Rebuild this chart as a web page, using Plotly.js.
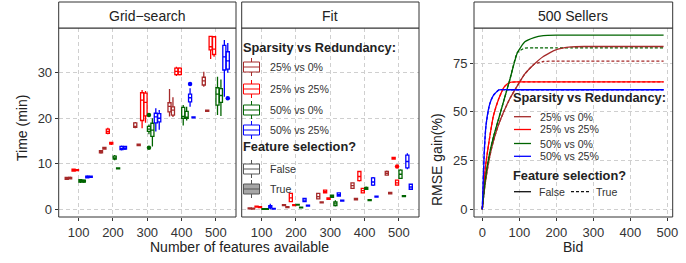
<!DOCTYPE html>
<html><head><meta charset="utf-8">
<script src="https://cdn.plot.ly/plotly-3.0.1.min.js"></script>
<style>html,body{margin:0;padding:0;background:#fff}#chart{width:686px;height:263px}</style>
</head><body><div id="chart"></div>
<script>
// ---------------- DATA ----------------
const featureCounts = [100, 200, 300, 400, 500];
const seriesNames = ['25% vs 0%', '25% vs 25%', '50% vs 0%', '50% vs 25%'];
const fsNames = ['False', 'True'];
// box stats per feature count: [lower whisker, q1, median, q3, upper whisker]
const grid_25v0_F  = [[6.5,6.6,6.8,7.0,7.1],[12.2,12.4,12.6,12.9,13.0],[17.8,18.0,18.2,19.0,19.2],[20.4,21.4,22.6,23.4,26.4],[26.9,27.3,28.2,29.0,30.2]];
const grid_25v0_T  = [[6.6,6.7,6.9,7.0,7.2],[13.1,13.2,13.4,13.6,13.7],[13.9,14.0,14.1,14.3,14.4],[20.3,20.7,21.8,22.5,24.6],[21.4,21.5,21.6,21.8,21.9]];
const grid_25v25_F = [[8.3,8.4,8.6,8.8,8.9],[16.5,16.7,17.1,17.6,17.9],[17.8,19.5,24.0,25.6,26.2],[29.3,29.6,30.3,31.0,31.3],[33.0,35.0,35.7,38.0,38.1]];
const grid_25v25_T = [[8.4,8.5,8.6,8.7,8.8],[14.1,14.3,14.5,14.7,14.8],[19.0,20.5,23.5,25.5,26.0],[29.4,29.6,30.2,31.0,31.2],[33.5,34.0,35.2,37.9,38.0]];
const grid_50v0_F  = [[5.8,6.0,6.2,6.5,6.6],[10.8,11.0,11.3,11.7,11.9],[16.5,17.1,17.6,18.2,18.6],[18.4,20.0,20.4,22.4,22.9],[20.7,22.9,25.3,26.7,29.1]];
const grid_50v0_T  = [[5.8,6.0,6.2,6.4,6.6],[8.8,8.9,9.0,9.1,9.2],[13.8,16.0,17.4,18.9,20.0],[19.5,20.0,20.2,21.5,22.5],[20.5,23.5,25.0,26.5,28.5]];
const grid_50v25_F = [[6.8,6.9,7.1,7.3,7.5],[12.9,13.1,13.4,13.8,14.0],[17.1,19.0,20.3,21.1,22.2],[22.5,23.6,24.5,25.3,26.6],[24.7,30.6,33.5,36.0,37.2]];
const grid_50v25_T = [[6.9,7.0,7.2,7.3,7.4],[13.0,13.2,13.5,13.8,13.9],[17.5,19.2,20.0,21.0,21.8],[20.0,20.1,20.2,20.3,20.4],[30.0,30.8,32.6,34.6,36.5]];
// outliers: group index (series*2 + fs), feature count, value
const gridOutGroup = [4, 4, 6, 7];
const gridOutX     = [300, 300, 400, 500];
const gridOutY     = [20.7, 13.5, 27.5, 24.4];

const fit_25v0_F  = [[0.0,0.1,0.2,0.3,0.4],[0.7,0.8,0.9,1.0,1.1],[2.2,2.3,2.8,3.5,3.6],[4.5,4.6,5.2,5.8,5.9],[7.4,7.5,7.9,8.3,8.5]];
const fit_25v0_T  = [[0.0,0.05,0.15,0.25,0.3],[0.3,0.4,0.5,0.6,0.7],[1.3,1.4,1.5,1.6,1.7],[2.0,2.1,2.2,2.4,2.5],[3.3,3.4,3.6,3.7,3.8]];
const fit_25v25_F = [[0.4,0.5,0.6,0.7,0.8],[1.6,1.7,2.5,3.5,3.6],[3.5,3.6,3.9,4.2,4.3],[6.1,6.3,7.2,8.3,8.4],[10.9,11.0,11.2,11.4,11.5]];
const fit_25v25_T = [[0.3,0.4,0.5,0.6,0.7],[0.7,0.8,0.9,1.0,1.1],[2.1,2.2,2.3,2.5,2.6],[3.5,3.6,4.1,4.6,4.7],[5.2,5.3,5.8,6.4,6.5]];
const fit_50v0_F  = [[-0.1,0.0,0.05,0.15,0.2],[0.8,0.9,1.0,1.1,1.2],[2.5,2.6,2.8,3.1,3.2],[4.3,4.4,4.6,4.8,5.0],[6.7,6.8,7.7,8.6,8.8]];
const fit_50v0_T  = [[-0.1,0.0,0.05,0.15,0.2],[0.2,0.3,0.4,0.5,0.6],[0.6,0.8,1.2,1.6,2.0],[1.8,1.9,2.0,2.1,2.2],[2.7,2.8,2.9,3.0,3.1]];
const fit_50v25_F = [[0.0,0.3,0.5,0.8,1.2],[1.6,1.7,2.0,2.4,2.5],[2.8,2.9,3.2,3.6,3.7],[5.1,5.3,6.0,6.9,7.1],[8.8,9.1,10.5,11.9,12.3]];
const fit_50v25_T = [[0.0,0.05,0.1,0.2,0.3],[0.6,0.7,0.8,0.9,1.0],[1.7,1.8,1.9,2.0,2.1],[2.6,2.7,2.8,2.9,3.0],[4.3,4.4,4.9,5.5,5.6]];
const fitOutGroup = [3];
const fitOutX     = [500];
const fitOutY     = [9.4];

const bids = [0, 5, 10, 20, 30, 45, 60, 75, 95, 115, 140, 165, 200, 240, 280, 490];
const gain_25v0_F  = [0, 9, 16, 27, 35, 44, 51, 57, 63.5, 69.5, 74.5, 78.5, 82, 83.4, 83.6, 83.6];
const gain_25v0_T  = [0, 9, 16, 27, 35, 44, 51, 57, 63.5, 69.5, 74.5, 75.9, 76.1, 76.1, 76.1, 76.1];
const gain_25v25_F = [0, 14, 24, 37, 48, 57, 63, 65.2, 65.4, 65.4, 65.4, 65.4, 65.4, 65.4, 65.4, 65.4];
const gain_25v25_T = [0, 14, 24, 37, 48, 57, 63, 65.2, 65.4, 65.4, 65.4, 65.4, 65.4, 65.4, 65.4, 65.4];
const gain_50v0_F  = [0, 10, 18, 29, 37, 47, 57, 67, 80.5, 86, 88.2, 89.2, 89.4, 89.4, 89.4, 89.4];
const gain_50v0_T  = [0, 10, 18, 29, 37, 47, 57, 67, 80.5, 82.8, 82.9, 82.9, 82.9, 82.9, 82.9, 82.9];
const gain_50v25_F = [0, 28, 43, 54, 58.5, 61.3, 61.4, 61.4, 61.4, 61.4, 61.4, 61.4, 61.4, 61.4, 61.4, 61.4];
const gain_50v25_T = [0, 28, 43, 54, 58.5, 61.3, 61.4, 61.4, 61.4, 61.4, 61.4, 61.4, 61.4, 61.4, 61.4, 61.4];

// ---------------- STYLE / LAYOUT ----------------
const colors = ['#A52A2A', '#FF0000', '#006400', '#0000FF'];
const W = 686, H = 263;
const fx = x => x / W, fy = y => 1 - y / H;
const FONT = 'Liberation Sans, Arial, sans-serif';
const dodge = g => -35 + 10 * g;

const gridSets = [[grid_25v0_F, grid_25v0_T],[grid_25v25_F, grid_25v25_T],[grid_50v0_F, grid_50v0_T],[grid_50v25_F, grid_50v25_T]];
const fitSets  = [[fit_25v0_F, fit_25v0_T],[fit_25v25_F, fit_25v25_T],[fit_50v0_F, fit_50v0_T],[fit_50v25_F, fit_50v25_T]];
const gainSets = [[gain_25v0_F, gain_25v0_T],[gain_25v25_F, gain_25v25_T],[gain_50v0_F, gain_50v0_T],[gain_50v25_F, gain_50v25_T]];

const traces = [];
function addBoxes(sets, xa, ya) {
  sets.forEach((pair, s) => pair.forEach((stats, f) => {
    const g = s * 2 + f;
    traces.push({
      type: 'box', xaxis: xa, yaxis: ya,
      x: featureCounts.map(v => v + dodge(g)),
      lowerfence: stats.map(a => a[0]), q1: stats.map(a => a[1]),
      median: stats.map(a => a[2]), q3: stats.map(a => a[3]),
      upperfence: stats.map(a => a[4]),
      width: 9, boxpoints: false, whiskerwidth: 0,
      line: {color: colors[s], width: 1.3}, fillcolor: '#ffffff',
      showlegend: false, hoverinfo: 'skip', name: seriesNames[s] + ' ' + fsNames[f]
    });
  }));
}
function addOutliers(groups, xs, ys, xa, ya) {
  groups.forEach((g, i) => traces.push({
    type: 'scatter', mode: 'markers', xaxis: xa, yaxis: ya,
    x: [xs[i] + dodge(g)], y: [ys[i]],
    marker: {color: colors[Math.floor(g / 2)], size: 4.5},
    showlegend: false, hoverinfo: 'skip'
  }));
}
addBoxes(gridSets, 'x', 'y');
addOutliers(gridOutGroup, gridOutX, gridOutY, 'x', 'y');
addBoxes(fitSets, 'x2', 'y2');
addOutliers(fitOutGroup, fitOutX, fitOutY, 'x2', 'y2');

[1, 0].forEach(f => gainSets.forEach((pair, s) => traces.push({
  type: 'scatter', mode: 'lines', xaxis: 'x3', yaxis: 'y3',
  x: bids, y: pair[f],
  line: {color: colors[s], width: 1.3, dash: f ? '3px,2px' : 'solid', shape: 'spline', smoothing: 0.5},
  showlegend: false, hoverinfo: 'skip'
})));

const gridStyle = {showgrid: true, gridcolor: '#cfcfcf', gridwidth: 1, griddash: '4px,3px', zeroline: false,
  showline: false, ticks: 'outside', ticklen: 3, tickcolor: '#333', tickwidth: 1,
  tickfont: {family: FONT, size: 13, color: '#333'}, fixedrange: true};
const yDom = [fy(217), fy(28)];
const P1 = [58.7, 236], P2 = [241.7, 419], P3 = [474, 672.7];

const layout = {
  width: W, height: H, autosize: false,
  margin: {l: 0, r: 0, t: 0, b: 0, pad: 0},
  paper_bgcolor: '#fff', plot_bgcolor: '#fff',
  font: {family: FONT, color: '#333'},
  xaxis:  Object.assign({}, gridStyle, {domain: [fx(P1[0]), fx(P1[1])], range: [41.6, 559], tickvals: featureCounts, anchor: 'y'}),
  yaxis:  Object.assign({}, gridStyle, {domain: yDom, range: [-1.69, 39.82], tickvals: [0, 10, 20, 30], anchor: 'x'}),
  xaxis2: Object.assign({}, gridStyle, {domain: [fx(P2[0]), fx(P2[1])], range: [41.6, 559], tickvals: featureCounts, anchor: 'y2'}),
  yaxis2: Object.assign({}, gridStyle, {domain: yDom, range: [-1.69, 39.82], tickvals: [0, 10, 20, 30], anchor: 'x2', showticklabels: false, ticks: ''}),
  xaxis3: Object.assign({}, gridStyle, {domain: [fx(P3[0]), fx(P3[1])], range: [-22.4, 514.6], tickvals: [0, 100, 200, 300, 400, 500], anchor: 'y3'}),
  yaxis3: Object.assign({}, gridStyle, {domain: yDom, range: [-3.96, 93.1], tickvals: [0, 25, 50, 75], anchor: 'x3'}),
  boxmode: 'overlay',
  shapes: [], annotations: []
};

const S = layout.shapes, A = layout.annotations;
function rect(x0, y0, x1, y1, line, fill, layer) {
  S.push({type: 'rect', xref: 'paper', yref: 'paper', x0: fx(x0), x1: fx(x1), y0: fy(y1), y1: fy(y0),
    line: line, fillcolor: fill, layer: layer || 'above'});
}
function seg(x0, y0, x1, y1, color, width, dash) {
  S.push({type: 'line', xref: 'paper', yref: 'paper', x0: fx(x0), x1: fx(x1), y0: fy(y0), y1: fy(y1),
    line: {color: color, width: width || 1, dash: dash || 'solid'}, layer: 'above'});
}
function text(t, x, y, size, opts) {
  A.push(Object.assign({text: t, xref: 'paper', yref: 'paper', x: fx(x), y: fy(y), showarrow: false,
    xanchor: 'left', yanchor: 'middle', font: {family: FONT, size: size, color: '#222'}}, opts || {}));
}

// panel borders and strips
[[P1, 'Grid\u2212search'], [P2, 'Fit'], [P3, '500 Sellers']].forEach(([p, t]) => {
  rect(p[0], 28, p[1], 217, {color: '#333', width: 1}, 'rgba(0,0,0,0)');
  rect(p[0], 2, p[1], 28, {color: '#333', width: 1}, '#ffffff');
  text(t, (p[0] + p[1]) / 2, 15.5, 14, {xanchor: 'center'});
});

// axis titles
text('Number of features available', 239.5, 247, 14, {xanchor: 'center'});
text('Bid', 573.3, 247, 14, {xanchor: 'center'});
text('Time (min)', 22, 128, 14, {xanchor: 'center', textangle: -90});
text('RMSE gain(%)', 437, 160, 14, {xanchor: 'center', textangle: -90});

// middle legend (boxes)
rect(241.7, 38, 332, 197, {width: 0}, '#ffffff', 'between');
text('<b>Sparsity vs Redundancy:</b>', 240.5, 47.7, 12.8);
const boxRows = [67, 89, 110, 130];
function boxKey(y, color, fill) {
  seg(251.5, y - 9, 251.5, y - 5, color, 1);
  seg(251.5, y + 5, 251.5, y + 9, color, 1);
  rect(243.5, y - 5, 259.5, y + 5, {color: color, width: 1}, fill);
  seg(243.5, y, 259.5, y, color, 1);
}
seriesNames.forEach((n, i) => { boxKey(boxRows[i], colors[i], '#ffffff'); text(n, 267.7, boxRows[i], 10.6, {font: {family: FONT, size: 10.6, color: '#333'}}); });
text('<b>Feature selection?</b>', 240.5, 146.7, 12.8);
boxKey(169, '#555555', '#ffffff'); text('False', 267.7, 169, 10.6, {font: {family: FONT, size: 10.6, color: '#333'}});
boxKey(189, '#555555', '#a6a6a6'); text('True', 267.7, 189, 10.6, {font: {family: FONT, size: 10.6, color: '#333'}});

// right legend (lines)
rect(509, 92, 600, 199, {width: 0}, '#ffffff', 'between');
text('<b>Sparsity vs Redundancy:</b>', 510.5, 97.7, 12.8);
const lineRows = [116.7, 129.5, 143.5, 156.3];
seriesNames.forEach((n, i) => { seg(514, lineRows[i], 531, lineRows[i], colors[i], 1.3); text(n, 537.5, lineRows[i], 10.6, {font: {family: FONT, size: 10.6, color: '#333'}}); });
text('<b>Feature selection?</b>', 510.5, 175, 12.8);
seg(514, 191.7, 531, 191.7, '#111', 1.3);
text('False', 537, 191.7, 10.6, {font: {family: FONT, size: 10.6, color: '#333'}});
seg(571, 191.7, 590, 191.7, '#111', 1.3, '3px,2px');
text('True', 594, 191.7, 10.6, {font: {family: FONT, size: 10.6, color: '#333'}});

Plotly.newPlot('chart', traces, layout, {staticPlot: true, displayModeBar: false});
</script></body></html>
